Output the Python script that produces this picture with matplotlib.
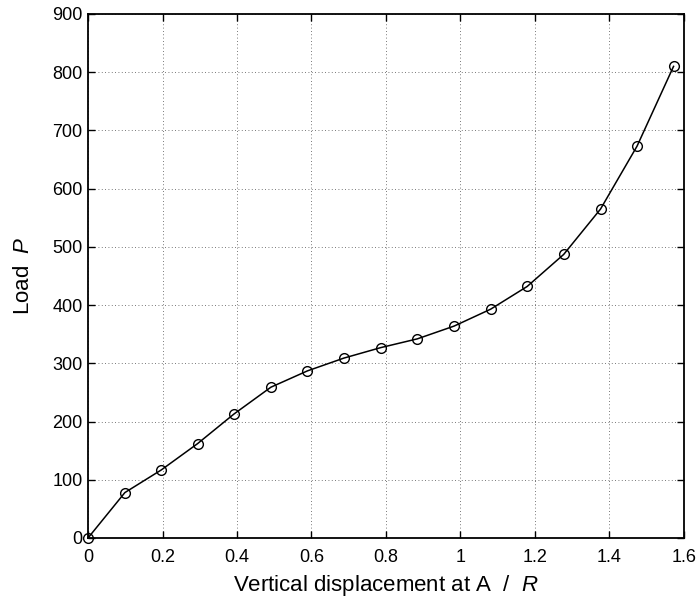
import numpy as np
import matplotlib.pyplot as plt

plt.rcParams['font.family'] = ['Liberation Sans', 'DejaVu Sans']
plt.rcParams['mathtext.fontset'] = 'custom'
plt.rcParams['mathtext.it'] = 'Liberation Sans:italic'
plt.rcParams['mathtext.rm'] = 'Liberation Sans'

# values
disp = [0.0, 0.099, 0.197, 0.294, 0.392, 0.491, 0.589, 0.687, 0.786,
        0.884, 0.983, 1.081, 1.179, 1.277, 1.376, 1.474, 1.572]
load = [0, 78, 117, 162, 213, 259, 287, 309, 327,
        342, 364, 393, 432, 487, 565, 673, 810]

x_ticks = [0, 0.2, 0.4, 0.6, 0.8, 1, 1.2, 1.4, 1.6]
x_labels = ['0', '0.2', '0.4', '0.6', '0.8', '1', '1.2', '1.4', '1.6']
y_ticks = [0, 100, 200, 300, 400, 500, 600, 700, 800, 900]

fig = plt.figure(figsize=(6.99, 6.03), dpi=100)
ax = fig.add_axes([0.1259, 0.1078, 0.8526, 0.869])

ax.plot(disp, load, '-', color='black', lw=1.1, marker='o',
        markersize=7, markerfacecolor='none', markeredgecolor='black',
        markeredgewidth=1.0, clip_on=False, zorder=3)

ax.set_xlim(0, 1.6)
ax.set_ylim(0, 900)
ax.set_xticks(x_ticks)
ax.set_xticklabels(x_labels)
ax.set_yticks(y_ticks)

ax.grid(True, linestyle=(0, (1, 3)), color='black', lw=0.6, alpha=0.7)
ax.tick_params(direction='in', top=True, right=True, length=5, width=1,
               labelsize=13)
ax.tick_params(axis='x', pad=8)
ax.tick_params(axis='y', pad=4)
for s in ax.spines.values():
    s.set_linewidth(1.3)

ax.set_xlabel('Vertical displacement at A  /  $R$', fontsize=16, labelpad=5)
ax.set_ylabel('Load  $P$', fontsize=16, labelpad=13)

fig.savefig('out.png', dpi=100)
